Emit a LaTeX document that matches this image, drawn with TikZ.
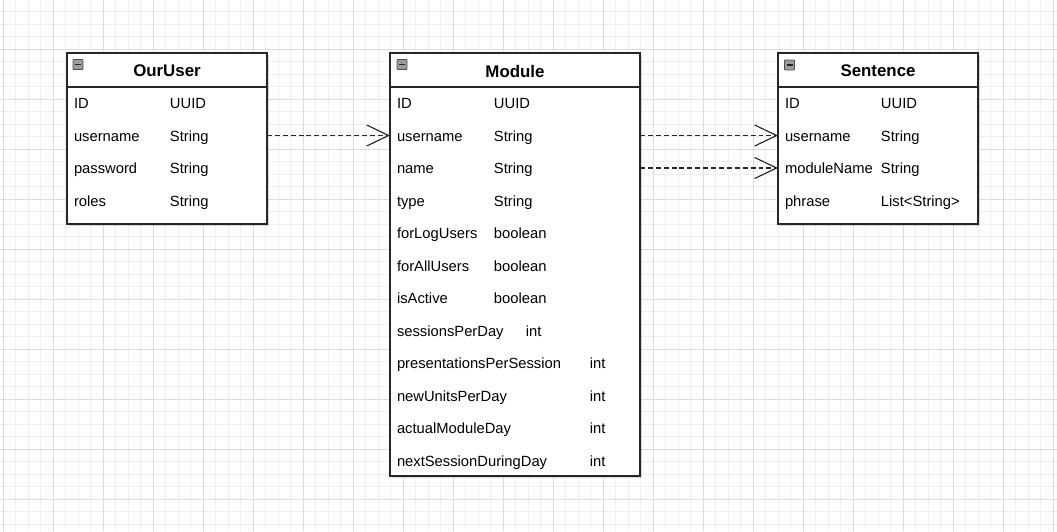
\documentclass[tikz,border=0pt]{standalone}
\usepackage{fontspec}
\setmainfont{Liberation Sans}
\usepackage{tikz}
\usetikzlibrary{arrows.meta, positioning, shadows}
\definecolor{trait}{HTML}{262626}
\definecolor{grille}{HTML}{DCDCDC}
\definecolor{grillefine}{HTML}{EFEFEF}
\definecolor{icone}{HTML}{9C9C9C}
\tikzset{
  classe/.style={draw=trait, line width=0.8pt, fill=white, inner sep=0pt, outer sep=0pt,
    anchor=north west, drop shadow={shadow xshift=0.035cm, shadow yshift=-0.035cm, opacity=0.3}},
  titre/.style={font=\fontsize{9.6}{11}\selectfont\bfseries, inner sep=0pt},
  champ/.style={anchor=west, inner xsep=0.14cm, inner ysep=0pt, outer sep=0pt, align=left,
    text height=0.28cm, text depth=0.06cm, font=\fontsize{8.4}{10}\selectfont},
  icone/.style={draw=icone!50!black, fill=icone, line width=0.4pt, minimum size=0.2cm,
    inner sep=0pt, rounded corners=0.3pt},
  lien/.style={draw=trait, line width=0.65pt, dash pattern=on 2.8pt off 1.7pt,
    -{Straight Barb[length=0.44cm, width=0.42cm, line width=0.65pt]}},
}
\newcommand{\moins}[1]{\draw[line width=0.9pt, trait] ([xshift=-0.06cm]#1.center) -- ([xshift=0.06cm]#1.center);}

\begin{document}
\begin{tikzpicture}[x=0.02cm, y=-0.02cm]
    % Fond et grille
    \fill[white] (0,0) rectangle (1057,531);
    \useasboundingbox (0,0) rectangle (1057,531);
    \foreach \gx in {0,...,84} \draw[grillefine, line width=0.5pt] ({3.3+12.5*\gx},0) -- ++(0,531);
    \foreach \gy in {0,...,41} \draw[grillefine, line width=0.5pt] (0,{11.8+12.5*\gy}) -- ++(1057,0);
    \foreach \gx in {0,...,21} \draw[grille, line width=0.5pt] ({3.3+50*\gx},0) -- ++(0,531);
    \foreach \gy in {0,...,9} \draw[grille, line width=0.5pt] (0,{49.3+50*\gy}) -- ++(1057,0);

    % OurUser
    \node[classe, minimum width=4cm, minimum height=3.42cm] (ouBox) at (67,53) {};
    \draw[trait, line width=0.8pt] (ouBox.north west) ++(0,34) -- ++(200,0);
    \node[titre] (ouTitre) at (167,71) {OurUser};
    \node[icone] (ouIcone) at (78,64.5) {};
    \moins{ouIcone}
    \foreach \lab/\typ [count=\i] in {ID/UUID, username/String, password/String, roles/String}
      \node[champ, text width=3.72cm] (ou-\i) at (67,70.5+32.5*\i) {\makebox[1.92cm][l]{\lab}\typ};

    % Module
    \node[classe, minimum width=5cm, minimum height=8.46cm] (moBox) at (390,53) {};
    \draw[trait, line width=0.8pt] (moBox.north west) ++(0,34) -- ++(250,0);
    \node[titre] (moTitre) at (515,71) {Module};
    \node[icone] (moIcone) at (402,64.5) {};
    \moins{moIcone}
    \foreach \lab/\typ/\off [count=\i] in {
      ID/UUID/1.94, username/String/1.94, name/String/1.94, type/String/1.94,
      forLogUsers/boolean/1.94, forAllUsers/boolean/1.94, isActive/boolean/1.94,
      sessionsPerDay/int/2.58, presentationsPerSession/int/3.86, newUnitsPerDay/int/3.86,
      actualModuleDay/int/3.86, nextSessionDuringDay/int/3.86}
      \node[champ, text width=4.72cm] (mo-\i) at (390,70.5+32.5*\i) {\makebox[\off cm][l]{\lab}\typ};

    % Sentence
    \node[classe, minimum width=4cm, minimum height=3.42cm] (seBox) at (778,53) {};
    \draw[trait, line width=0.8pt] (seBox.north west) ++(0,34) -- ++(200,0);
    \node[titre] (seTitre) at (878,71) {Sentence};
    \node[icone] (seIcone) at (789.5,65) {};
    \moins{seIcone}
    \foreach \lab/\typ [count=\i] in {ID/UUID, username/String, moduleName/String, phrase/{List<String>}}
      \node[champ, text width=3.72cm] (se-\i) at (778,70.5+32.5*\i) {\makebox[1.92cm][l]{\lab}\typ};

    % Liens
    \draw[lien] (ou-2.east) -- (mo-2.west);
    \draw[lien] (mo-2.east) -- (se-2.west);
    \draw[lien] (mo-3.east) -- (se-3.west);
\end{tikzpicture}
\end{document}
